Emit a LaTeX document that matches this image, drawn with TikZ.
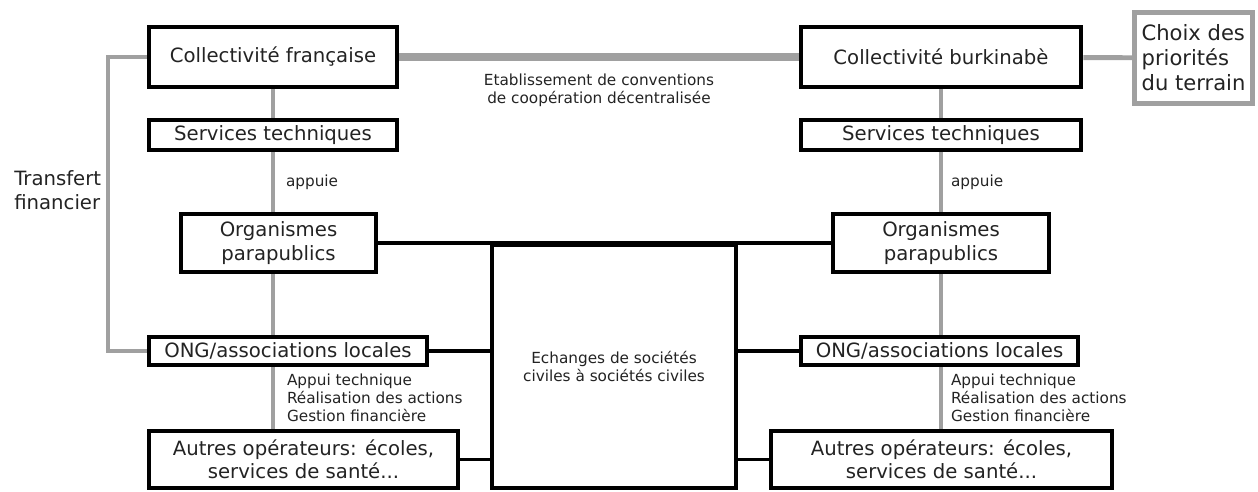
\documentclass[tikz,border=0pt]{standalone}
\usepackage{fontspec}
\setmainfont{DejaVu Sans}
\usepackage{tikz}
\usetikzlibrary{positioning,backgrounds}
\definecolor{cpgray}{RGB}{160,160,160}
\definecolor{cptext}{RGB}{35,35,35}

\begin{document}
\begin{tikzpicture}[
  x=0.02cm, y=-0.02cm,
  box/.style={rectangle, draw=black, line width=2.6pt, fill=white, text=cptext, align=center, inner sep=0pt, font=\fontsize{11.2}{13.3}\selectfont},
  grayline/.style={draw=cpgray, line width=2.3pt},
  blackline/.style={draw=black, line width=1.8pt},
  note/.style={text=cptext, align=left, inner sep=0pt, font=\fontsize{8.7}{10.2}\selectfont}
]
\useasboundingbox (0,0) rectangle (1258,492);

% French side
\node[box, minimum width=4.96cm, minimum height=1.2cm] (collfr) at (273,57) {Collectivité française};
\node[box, minimum width=4.96cm, minimum height=0.6cm] (servfr) at (273,135) {Services techniques};
\node[box, minimum width=3.9cm, minimum height=1.16cm] (orgfr) at (278.5,243) {Organismes\\parapublics};
\node[box, minimum width=5.56cm, minimum height=0.56cm] (ongfr) at (288,351) {ONG/associations locales};
\node[box, minimum width=6.18cm, minimum height=1.14cm] (autfr) at (303.5,459.5) {Autres opérateurs: écoles,\\services de santé...};

% Burkinabe side
\node[box, minimum width=5.6cm, minimum height=1.2cm] (collbf) at (941,57) {Collectivité burkinabè};
\node[box, minimum width=5.6cm, minimum height=0.6cm] (servbf) at (941,135) {Services techniques};
\node[box, minimum width=4.32cm, minimum height=1.16cm] (orgbf) at (941,243) {Organismes\\parapublics};
\node[box, minimum width=5.54cm, minimum height=0.56cm] (ongbf) at (939.5,351) {ONG/associations locales};
\node[box, minimum width=6.82cm, minimum height=1.14cm] (autbf) at (941.5,459.5) {Autres opérateurs: écoles,\\services de santé...};
\node[box, draw=cpgray, align=left, minimum width=2.36cm, minimum height=1.82cm, font=\fontsize{12}{14.2}\selectfont] (choix) at (1193.5,58) {Choix des\\priorités\\du terrain};

% Civil society exchanges
\node[box, line width=2.2pt, minimum width=4.88cm, minimum height=4.86cm, font=\fontsize{8.7}{10.2}\selectfont] (ech) at (614,366.5) {Echanges de sociétés\\civiles à sociétés civiles};

\node[box, draw=none, fill=none, align=left, anchor=west] (transfert) at (12,190) {Transfert\\financier};

\begin{scope}[on background layer]
% Links between the two collectivities
\draw[grayline, line width=4pt] (collfr) -- (collbf) node[note, midway, below=0.26cm, align=center] {Etablissement de conventions\\de coopération décentralisée};
\draw[grayline, line width=2.8pt] (collbf) -- (choix);
\draw[grayline] (collfr.west) -- +(-39,0) |- (ongfr.west);

% French chain
\draw[grayline] (collfr) -- (servfr);
\draw[grayline] (servfr.south) -- (servfr.south |- orgfr.north) node[note, midway, right=0.22cm] {appuie};
\draw[grayline] (servfr.south |- orgfr.south) -- (servfr.south |- ongfr.north);
\draw[grayline] (servfr.south |- ongfr.south) -- (servfr.south |- autfr.north) node[note, midway, right=0.24cm] {Appui technique\\Réalisation des actions\\Gestion financière};

% Burkinabe chain
\draw[grayline] (collbf) -- (servbf);
\draw[grayline] (servbf.south) -- (servbf.south |- orgbf.north) node[note, midway, right=0.16cm] {appuie};
\draw[grayline] (servbf.south |- orgbf.south) -- (servbf.south |- ongbf.north);
\draw[grayline] (servbf.south |- ongbf.south) -- (servbf.south |- autbf.north) node[note, midway, right=0.16cm] {Appui technique\\Réalisation des actions\\Gestion financière};

% Links to the exchanges box
\draw[blackline] (orgfr.east) -- (orgbf.west);
\draw[blackline] (ongfr.east) -- (ech.west |- ongfr.east);
\draw[blackline] (autfr.east) -- (ech.west |- autfr.east);
\draw[blackline] (ongbf.west) -- (ech.east |- ongbf.west);
\draw[blackline] (autbf.west) -- (ech.east |- autbf.west);
\end{scope}

\end{tikzpicture}
\end{document}
